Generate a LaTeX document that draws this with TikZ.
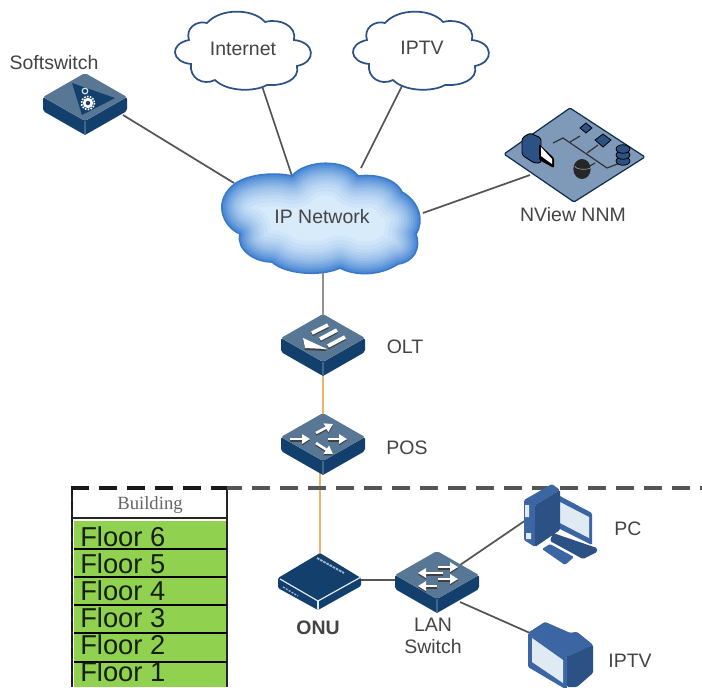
\documentclass[tikz,border=0pt]{standalone}
\usepackage{fontspec}
\setmainfont{Liberation Sans}
\newfontfamily\serifface{Liberation Serif}
\usetikzlibrary{arrows.meta}
\definecolor{topblue}{HTML}{587794}
\definecolor{sideblue}{HTML}{123F6C}
\definecolor{iconblue}{HTML}{3B66A3}
\definecolor{icondark}{HTML}{2C5285}
\definecolor{screenc}{HTML}{E0EAF3}
\definecolor{nmsc}{HTML}{7F9AB8}
\definecolor{cableg}{HTML}{555555}
\definecolor{fibre}{HTML}{E8B56A}
\definecolor{floorg}{HTML}{90D14F}
\definecolor{txt}{HTML}{444444}
\definecolor{cloudedge}{HTML}{3A78C8}
\definecolor{ipin}{HTML}{D8EBFB}
\definecolor{ipout}{HTML}{3F80D2}
\newcommand{\wArrow}[2]{%
 \draw[draw=black!75,line width=1.9pt,-{Triangle[length=6pt,width=7pt]}] ([yshift=-1.1pt]#1)--([yshift=-1.1pt]#2);
 \draw[draw=white,line width=1.9pt,-{Triangle[length=6pt,width=7pt]}] (#1)--(#2);}
\newcommand{\wBar}[2]{%
 \draw[draw=black!75,line width=2.8pt] ([yshift=-1pt]#1)--([yshift=-1pt]#2);
 \draw[draw=white,line width=2.8pt] (#1)--(#2);}
\newcommand{\ipCloudPath}{(236,183) .. controls (250,174) and (275,172) .. (292,176)
 .. controls (305,160) and (345,158) .. (358,176)
 .. controls (375,174) and (395,178) .. (402,192)
 .. controls (420,202) and (424,222) .. (416,234)
 .. controls (421,248) and (414,262) .. (398,264)
 .. controls (380,276) and (355,276) .. (340,268)
 .. controls (320,277) and (285,274) .. (272,262)
 .. controls (255,262) and (236,250) .. (240,234)
 .. controls (222,226) and (212,200) .. (236,183) -- cycle}
\tikzset{
 lbl/.style={text=txt,font=\fontsize{14.6}{17}\selectfont,inner sep=0pt,align=center},
 cable/.style={draw=cableg,line width=1.3pt},
 fibrecable/.style={draw=fibre,line width=1.8pt},
 floorlbl/.style={text=black!85!floorg,font=\fontsize{20.5}{24}\selectfont,inner sep=0pt,anchor=base west},
 cloudline/.style={draw=icondark,line width=1.3pt,fill=white},
 devbox/.pic={
  \fill[sideblue,rounded corners=1.5pt] (-42,0)--(0,24)--(42,0)--(42,14)--(0,38)--(-42,14)--cycle;
  \fill[topblue,rounded corners=1.5pt] (-42,0)--(0,-24)--(42,0)--(0,24)--cycle;
  \draw[topblue!70!sideblue,line width=.8pt] (0,24)--(0,38);
 },
 smallcloud/.pic={
  \path[cloudline] (14,26) .. controls (10,14) and (22,6) .. (32,9)
   .. controls (45,-6) and (78,-6) .. (90,8)
   .. controls (105,4) and (122,12) .. (119,26)
   .. controls (140,28) and (142,48) .. (122,52)
   .. controls (125,66) and (108,72) .. (92,71)
   .. controls (80,78) and (52,78) .. (40,66)
   .. controls (28,72) and (14,64) .. (16,50)
   .. controls (-4,48) and (-6,30) .. (14,26) -- cycle;
 }
}
\begin{document}
\begin{tikzpicture}[x=.75pt,y=-.75pt]
\useasboundingbox (0,0) rectangle (702,687);
\clip (0,0) rectangle (702,687);
\fill[white] (0,0) rectangle (702,687);

% named positions
\coordinate (softsw) at (85,97);
\coordinate (softswP) at (123,115);
\coordinate (inetP) at (262,86);
\coordinate (iptvcP) at (403,84);
\coordinate (ipS) at (234,183);
\coordinate (ipI) at (292,176);
\coordinate (ipT) at (361,168);
\coordinate (ipN) at (423,213);
\coordinate (ipO) at (323,268);
\coordinate (nmsP) at (530,175);
\coordinate (olt) at (323,338);
\coordinate (pos) at (323,437);
\coordinate (posB) at (320,470);
\coordinate (onuT) at (320,556);
\coordinate (onuR) at (360,580);
\coordinate (lan) at (437,575);
\coordinate (lanL) at (397,580);
\coordinate (lanU) at (460,565);
\coordinate (lanD) at (460,602);
\coordinate (pcP) at (526,520);
\coordinate (tvP) at (530,633);

% connectors
\draw[cable] (softswP)--(ipS);
\draw[cable] (inetP)--(ipI);
\draw[cable] (iptvcP)--(ipT);
\draw[cable] (ipN)--(nmsP);
\draw[draw=gray!85,line width=2pt] (ipO)--(olt);
\draw[fibrecable] (olt)--(pos);
\draw[fibrecable] (posB)--(onuT);
\draw[cable] (onuR)--(lanL);
\draw[cable] (lanU)--(pcP);
\draw[cable] (lanD)--(tvP);

% clouds
\pic at (175,14) {smallcloud};
\pic at (353,14) {smallcloud};
\node[lbl] (internet) at (243,49) {Internet};
\node[lbl] (iptvc) at (422,48) {IPTV};

\begin{scope}
 \clip \ipCloudPath;
 \fill[ipin] \ipCloudPath;
 \foreach \wd/\mx in {48/6,42/12,36/18,31/25,27/32,23/39,19/47,16/55,13/63,10/71,7/80,4/90}{
  \draw[draw=ipout!\mx!ipin,line width=\wd pt,line join=round] \ipCloudPath;
 }
\end{scope}
\draw[cloudedge,line width=1.2pt] \ipCloudPath;
\node[lbl] (ipnet) at (322,217) {IP Network};

% softswitch
\pic at (softsw) {devbox};
\fill[sideblue] (72,83)--(115,98)--(82,115)--cycle;
\draw[white,line width=2pt] (88,103) circle (3.8);
\draw[white,line width=1.2pt,densely dotted] (88,103) circle (6.5);
\draw[white!80!topblue,line width=.9pt] (85,91) circle (2.8);
\node[lbl,anchor=base] (softlbl) at (54,69) {Softswitch};

% NView NNM
\fill[nmsc,draw=sideblue!70!black,line width=.9pt,rounded corners=1pt] (504,154)--(570,108)--(645,157)--(574,202)--cycle;
\draw[black!80,line width=.9pt] (553,143)--(563,138)--(607,168)--(620,163);
\draw[black!80,line width=.9pt] (570,142)--(580,136) (587,153)--(598,145) (595,163)--(583,170);
\fill[icondark,draw=black,line width=.6pt] (586,123)--(592,128)--(586,133)--(580,128)--cycle;
\fill[icondark,draw=black,line width=.6pt] (603,134)--(611,140)--(603,147)--(595,140)--cycle;
\foreach \sy in {161,155,149}{\fill[icondark,draw=black,line width=.6pt] (623,\sy) ellipse (5.2pt and 3.2pt);}
\fill[black!85] (582,169) ellipse (6.5pt and 7.5pt);
\draw[white!60!black,line width=.5pt] (575,166) arc[start angle=180,end angle=360,x radius=6.5pt,y radius=2.5pt];
\fill[icondark,draw=black,line width=.7pt,rounded corners=2pt] (522,138)--(530,133)--(541,138)--(541,163)--(534,163)--(522,155)--cycle;
\fill[black,rounded corners=1pt] (539,144)--(554,158)--(554,168)--(539,160)--cycle;
\fill[white] (541,147)--(552,159)--(552,164)--(541,156)--cycle;
\node[lbl] (nmslbl) at (573,215) {NView NNM};

% OLT
\pic at (olt) {devbox};
\fill[black!75] (303,339)--(305,350)--(327,351)--cycle;
\fill[white] (303,338)--(305,348)--(327,349)--cycle;
\wBar{312,333}{328,325}
\wBar{320,339}{337,330}
\wBar{328,346}{345,337}
\node[lbl] (oltlbl) at (405,347) {OLT};

% POS
\pic at (pos) {devbox};
\wArrow{290,439}{310,439}
\wArrow{316,433}{333,424}
\wArrow{328,439}{347,439}
\wArrow{316,443}{333,454}
\node[lbl] (poslbl) at (407,448) {POS};

% Building table
\fill[floorg] (74,521) rectangle (227,687);
\draw[black!85,line width=1pt] (72,488)--(72,687);
\draw[black!90,line width=1.8pt,dash pattern=on 7pt off 3pt] (72,488)--(72,687);
\draw[black!85,line width=1.5pt] (227,488)--(227,687);
\draw[black!85,line width=1.5pt] (72,518)--(227,518);
\foreach \yy in {549,577,605,633,662}{\draw[black,line width=1.3pt] (74,\yy)--(227,\yy);}
\node[inner sep=0pt,text=black!60,font=\serifface\fontsize{14}{16}\selectfont] (building) at (150,505) {Building};
\node[floorlbl] (f6) at (80,546) {Floor 6};
\node[floorlbl] (f5) at (80,573) {Floor 5};
\node[floorlbl] (f4) at (80,600) {Floor 4};
\node[floorlbl] (f3) at (80,627) {Floor 3};
\node[floorlbl] (f2) at (80,654) {Floor 2};
\node[floorlbl] (f1) at (80,681) {Floor 1};
\draw[black!90,line width=2.8pt,dash pattern=on 13.5pt off 7.5pt] (71,488)--(227,488);
\draw[cableg,line width=2.8pt,dash pattern=on 13.5pt off 7.5pt,dash phase=2pt] (227,488)--(702,488);

% ONU
\fill[sideblue,rounded corners=1pt] (278,578)--(320,553)--(361,578)--(361,586)--(318,610)--(278,588)--cycle;
\draw[screenc,line width=.9pt] (280,579)--(318,601)--(361,577);
\draw[screenc,line width=.9pt] (318,601)--(318,609);
\draw[screenc!70!sideblue,line width=1.4pt,dash pattern=on 2pt off .7pt] (317,558)--(344,573);
\draw[screenc!70!sideblue,line width=1pt,dash pattern=on 1.5pt off 1pt] (283,587)--(298,596);
\node[lbl,font=\bfseries\fontsize{14.6}{17}\selectfont] (onulbl) at (318,628) {ONU};

% LAN switch
\pic at (lan) {devbox};
\wArrow{438,567}{458,567}
\wArrow{443,573}{418,573}
\wArrow{438,579}{458,579}
\wArrow{437,586}{418,586}
\node[lbl] (lanlbl) at (433,636) {LAN\\Switch};

% PC
\fill[icondark,rounded corners=1pt] (553,533)--(597,548)--(597,552)--(583,559)--(550,541)--cycle;
\fill[iconblue,rounded corners=1pt] (558,495)--(592,513)--(592,545)--(558,528)--cycle;
\fill[screenc] (560,502)--(589,517)--(589,538)--(560,523)--cycle;
\fill[iconblue,rounded corners=1pt] (524,500)--(552,484)--(560,490)--(535,505)--(535,547)--(524,540)--cycle;
\fill[icondark,rounded corners=1pt] (535,505)--(560,490)--(560,530)--(535,547)--cycle;
\fill[screenc] (525,505) rectangle (529,517) (526,533) rectangle (531,539);
\fill[iconblue,rounded corners=1pt] (542,549)--(550,544)--(574,557)--(565,565)--cycle;
\node[lbl] (pclbl) at (628,529) {PC};

% IPTV set
\fill[icondark,rounded corners=1pt] (528,633)--(545,622)--(570,633)--(577,632)--(593,645)--(593,673)--(577,687)--(567,687)--(567,657)--cycle;
\fill[iconblue,rounded corners=1pt] (528,633)--(545,622)--(570,633)--(577,632)--(593,645)--(567,657)--cycle;
\fill[iconblue,rounded corners=1pt] (528,633)--(567,657)--(567,690)--(528,667)--cycle;
\fill[screenc] (532,638)--(563,660)--(563,683)--(532,662)--cycle;
\node[lbl] (tvlbl) at (630,661) {IPTV};
\end{tikzpicture}
\end{document}
